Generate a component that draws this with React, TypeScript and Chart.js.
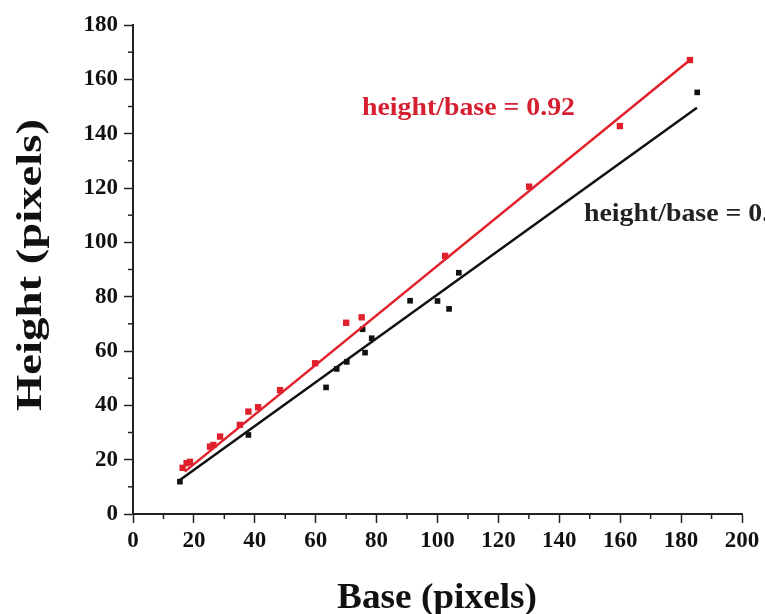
import React, { useEffect, useRef } from "react";
import { Chart, registerables } from "chart.js";

Chart.register(...registerables);

// Red series (squares)
const redBase = [16.3, 17.6, 18.7, 25.3, 26.4, 28.6, 35.1, 37.9, 41.1, 48.3, 59.8, 70, 75.1, 102.5, 130.1, 159.9, 182.9];
const redHeight = [17, 18.7, 19.2, 24.8, 25.4, 28.5, 32.8, 37.7, 39.3, 45.6, 55.5, 70.4, 72.4, 95, 120.5, 142.8, 167.1];

// Black series (squares)
const blackBase = [15.4, 37.9, 63.4, 66.9, 70.2, 75.4, 76.2, 78.4, 91, 100, 103.8, 107, 185.3];
const blackHeight = [11.9, 29.1, 46.6, 53.4, 56, 68, 59.4, 64.7, 78.5, 78.4, 75.5, 88.8, 155.2];

// Fit lines (end points)
const redFitBase = [17, 183];
const redFitHeight = [15.6, 167.2];
const blackFitBase = [15.4, 185.2];
const blackFitHeight = [12.5, 149.5];

const xTickValues = [0, 20, 40, 60, 80, 100, 120, 140, 160, 180, 200];
const yTickValues = [0, 20, 40, 60, 80, 100, 120, 140, 160, 180];

const redLabel = "height/base = 0.92";
const blackLabel = "height/base = 0.";
const xTitle = "Base (pixels)";
const yTitle = "Height (pixels)";

const RED = "#e0202a";
const BLACK = "#111111";
const SERIF = '"Liberation Serif", "Times New Roman", Times, serif';

const zip = (xs: number[], ys: number[]) => xs.map((x, i) => ({ x, y: ys[i] }));

const decorPlugin = {
  id: "decor",
  afterDraw(chart: any) {
    const ctx = chart.ctx as CanvasRenderingContext2D;
    const xs = chart.scales.x;
    const ys = chart.scales.y;
    ctx.save();
    // minor ticks
    ctx.strokeStyle = "#222";
    ctx.lineWidth = 1.5;
    for (let i = 0; i < xTickValues.length - 1; i++) {
      const v = (xTickValues[i] + xTickValues[i + 1]) / 2;
      const px = xs.getPixelForValue(v);
      ctx.beginPath();
      ctx.moveTo(px, ys.bottom);
      ctx.lineTo(px, ys.bottom + 5);
      ctx.stroke();
    }
    for (let i = 0; i < yTickValues.length - 1; i++) {
      const v = (yTickValues[i] + yTickValues[i + 1]) / 2;
      const py = ys.getPixelForValue(v);
      ctx.beginPath();
      ctx.moveTo(xs.left, py);
      ctx.lineTo(xs.left - 5, py);
      ctx.stroke();
    }

    // annotations
    ctx.font = `bold 25px ${SERIF}`;
    ctx.textBaseline = "alphabetic";
    ctx.textAlign = "left";
    const rw = ctx.measureText(redLabel).width;
    const sx = 213 / rw;
    ctx.save();
    ctx.fillStyle = "#d42030";
    ctx.translate(362, 115);
    ctx.scale(sx, 1);
    ctx.fillText(redLabel, 0, 0);
    ctx.restore();
    ctx.save();
    ctx.fillStyle = "#222";
    ctx.translate(584, 221);
    ctx.scale(sx, 1);
    ctx.fillText(blackLabel, 0, 0);
    ctx.restore();

    // axis titles
    ctx.font = `bold 35px ${SERIF}`;
    ctx.fillStyle = "#111";
    ctx.textAlign = "center";
    ctx.textBaseline = "alphabetic";
    const xw = ctx.measureText(xTitle).width;
    ctx.save();
    ctx.translate(437, 608);
    ctx.scale(200 / xw, 1);
    ctx.fillText(xTitle, 0, 0);
    ctx.restore();

    const yw = ctx.measureText(yTitle).width;
    ctx.save();
    ctx.translate(41, 265);
    ctx.rotate(-Math.PI / 2);
    ctx.scale(292 / yw, 1);
    ctx.fillText(yTitle, 0, 0);
    ctx.restore();

    ctx.restore();
  },
};

export default function App() {
  const ref = useRef<HTMLCanvasElement | null>(null);
  useEffect(() => {
    document.body.style.margin = "0";
    if (!ref.current) return;
    const chart = new Chart(ref.current, {
      type: "scatter",
      data: {
        datasets: [
          {
            type: "line",
            label: "red fit",
            data: zip(redFitBase, redFitHeight),
            borderColor: RED,
            borderWidth: 2.5,
            pointRadius: 0,
            fill: false,
            order: 1,
          },
          {
            type: "line",
            label: "black fit",
            data: zip(blackFitBase, blackFitHeight),
            borderColor: BLACK,
            borderWidth: 2.5,
            pointRadius: 0,
            fill: false,
            order: 1,
          },
          {
            label: "red",
            data: zip(redBase, redHeight),
            backgroundColor: RED,
            borderColor: RED,
            borderWidth: 0,
            pointStyle: "rect",
            pointRadius: 4.5,
            order: 2,
          },
          {
            label: "black",
            data: zip(blackBase, blackHeight),
            backgroundColor: BLACK,
            borderColor: BLACK,
            borderWidth: 0,
            pointStyle: "rect",
            pointRadius: 4,
            order: 2,
          },
        ],
      },
      options: {
        animation: false,
        responsive: true,
        maintainAspectRatio: false,
        layout: { padding: { left: 0, right: 23, top: 25, bottom: 0 } },
        plugins: { legend: { display: false }, tooltip: { enabled: false } },
        scales: {
          x: {
            type: "linear",
            min: 0,
            max: 200,
            afterFit: (s: any) => {
              s.height = 100;
            },
            afterBuildTicks: (s: any) => {
              s.ticks = xTickValues.map((v) => ({ value: v }));
            },
            ticks: {
              color: "#111",
              font: { family: SERIF, size: 23, weight: "bold" },
              padding: 4,
              maxRotation: 0,
              autoSkip: false,
            },
            grid: {
              display: true,
              drawOnChartArea: false,
              drawTicks: true,
              tickLength: 9,
              tickColor: "#222",
              tickWidth: 1.5,
            },
            border: { display: true, color: "#222", width: 2 },
          },
          y: {
            type: "linear",
            min: 0,
            max: 180,
            afterFit: (s: any) => {
              s.width = 133;
            },
            afterBuildTicks: (s: any) => {
              s.ticks = yTickValues.map((v) => ({ value: v }));
            },
            ticks: {
              color: "#111",
              font: { family: SERIF, size: 23, weight: "bold" },
              padding: 6,
              autoSkip: false,
            },
            grid: {
              display: true,
              drawOnChartArea: false,
              drawTicks: true,
              tickLength: 9,
              tickColor: "#222",
              tickWidth: 1.5,
            },
            border: { display: true, color: "#222", width: 2 },
          },
        },
      },
      plugins: [decorPlugin],
    } as any);
    return () => chart.destroy();
  }, []);
  return (
    <div style={{ width: 765, height: 614, position: "relative" }}>
      <canvas ref={ref} />
    </div>
  );
}
